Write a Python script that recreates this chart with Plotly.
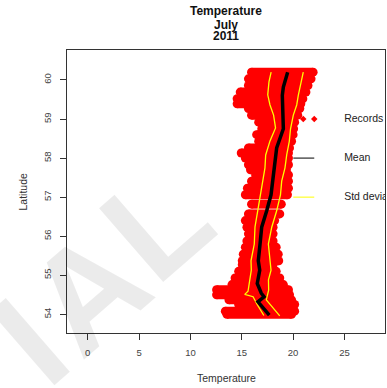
import plotly.graph_objects as go

# Temperature records per latitude band: coldest and warmest reading
rec_lat = [60.20, 60.03, 59.86, 59.69, 59.52, 59.39, 59.27, 59.10, 58.92, 58.75,
           58.60, 58.43, 58.26, 58.13, 58.00, 57.83, 57.70, 57.57, 57.41, 57.23,
           57.06, 56.82, 56.57, 56.40, 56.23, 56.06, 55.88, 55.72, 55.54, 55.37,
           55.27, 55.10, 54.93, 54.76, 54.63, 54.50, 54.37, 54.25, 54.08, 54.00]
rec_min = [15.95, 15.65, 15.65, 14.85, 14.55, 14.55, 15.65, 15.95, 16.65, 16.95,
           16.45, 16.65, 15.65, 14.95, 15.35, 15.65, 15.85, 16.35, 15.95, 15.55,
           15.35, 15.95, 15.65, 15.35, 15.50, 15.65, 15.50, 15.35, 15.15, 15.05,
           15.05, 14.70, 14.35, 14.05, 12.55, 12.55, 13.75, 14.70, 13.40, 13.55]
rec_max = [21.95, 21.75, 21.45, 21.25, 20.95, 20.75, 20.65, 20.45, 20.15, 20.05,
           20.00, 19.85, 19.65, 19.55, 19.55, 19.55, 19.35, 19.55, 19.55, 19.55,
           19.45, 18.85, 18.70, 18.20, 18.05, 18.05, 18.05, 18.35, 18.55, 18.60,
           18.05, 18.35, 18.70, 19.05, 19.55, 19.65, 19.85, 20.15, 20.15, 19.85]

# Mean temperature by latitude
mean_lat = [60.20, 59.82, 59.61, 59.18, 58.75, 58.26, 57.92, 57.49, 57.06, 56.65,
            56.23, 55.80, 55.37, 55.13, 54.79, 54.54, 54.45, 54.32, 54.11, 53.98]
mean_t = [19.47, 19.05, 18.95, 18.99, 19.05, 18.40, 18.24, 17.97, 17.85, 17.43,
          16.94, 16.78, 16.61, 16.75, 16.51, 16.90, 17.17, 16.58, 17.23, 17.68]

# Mean minus one standard deviation
lower_lat = [60.20, 59.95, 59.62, 59.36, 59.10, 58.77, 58.44, 58.08, 57.75, 57.41,
             57.06, 56.65, 56.24, 55.80, 55.37, 55.13, 54.88, 54.59, 54.51, 54.45,
             54.25, 53.97]
lower_t = [17.86, 17.65, 17.53, 17.75, 18.10, 18.29, 17.75, 17.33, 17.26, 17.04,
           16.87, 16.61, 16.29, 16.22, 15.90, 15.93, 15.77, 15.61, 15.29, 16.10,
           16.50, 17.15]

# Mean plus one standard deviation
upper_lat = [60.20, 59.95, 59.61, 59.36, 59.10, 58.75, 58.43, 58.09, 57.75, 57.41,
             57.06, 56.65, 56.23, 55.80, 55.37, 55.13, 54.88, 54.62, 54.37, 54.11,
             53.96]
upper_t = [20.99, 20.77, 20.51, 20.35, 20.02, 19.75, 19.63, 19.38, 19.21, 18.89,
           18.77, 18.40, 17.92, 17.59, 17.75, 17.85, 17.60, 17.62, 17.39, 18.21,
           18.70]

# Legend keys (placed in data units, as in the original plot)
legend_labels = ["Records", "Mean", "Std deviation"]
legend_lat = [59.0, 58.0, 57.0]
legend_key_t = [20.02, 22.06]
legend_dot_t = [20.99, 22.06]
legend_text_t = 24.97

x_ticks = [0, 5, 10, 15, 20, 25]
y_ticks = [54, 55, 56, 57, 58, 59, 60]

FONT = "Liberation Sans, Arial, sans-serif"
RED = "#ff0000"

fig = go.Figure()

# Record spread: one thick horizontal bar per latitude band, rounded ends
seg_x, seg_y = [], []
for lat, lo, hi in zip(rec_lat, rec_min, rec_max):
    seg_x += [lo, hi, None]
    seg_y += [lat, lat, None]
fig.add_trace(go.Scatter(
    x=seg_x, y=seg_y, mode="lines+markers",
    line=dict(color=RED, width=9),
    marker=dict(color=RED, size=9),
    hoverinfo="skip", showlegend=False))

fig.add_trace(go.Scatter(x=lower_t, y=lower_lat, mode="lines",
                         line=dict(color="#ffff00", width=1.3), showlegend=False))
fig.add_trace(go.Scatter(x=upper_t, y=upper_lat, mode="lines",
                         line=dict(color="#ffff00", width=1.3), showlegend=False))
fig.add_trace(go.Scatter(x=mean_t, y=mean_lat, mode="lines",
                         line=dict(color="black", width=3.5), showlegend=False))

# Legend drawn inside the plot area
fig.add_trace(go.Scatter(x=legend_dot_t, y=[legend_lat[0]] * 2, mode="markers",
                         marker=dict(color=RED, size=5, symbol="diamond"),
                         showlegend=False))
fig.add_trace(go.Scatter(x=legend_key_t, y=[legend_lat[1]] * 2, mode="lines",
                         line=dict(color="black", width=1), showlegend=False))
fig.add_trace(go.Scatter(x=legend_key_t, y=[legend_lat[2]] * 2, mode="lines",
                         line=dict(color="#ffff00", width=1), showlegend=False))
fig.add_trace(go.Scatter(x=[legend_text_t] * 3, y=legend_lat, mode="text",
                         text=legend_labels, textposition="middle right",
                         textfont=dict(family=FONT, size=10.5, color="#222"),
                         cliponaxis=True, showlegend=False))

axis_common = dict(
    showgrid=False, zeroline=False, showline=True, mirror=True,
    linecolor="#333", linewidth=1, ticks="outside", ticklen=6,
    tickcolor="#333", tickwidth=1,
    tickfont=dict(family=FONT, size=9.5, color="#444"),
    ticklabelstandoff=5,
)

annotations = []
# Faint watermark letters
for letter, px, py in [("I", -0.119, -0.03), ("A", 0.066, 0.15), ("L", 0.28, 0.39)]:
    annotations.append(dict(
        text=letter, xref="paper", yref="paper", x=px, y=py,
        xanchor="center", yanchor="middle", showarrow=False, textangle=-41,
        font=dict(family=FONT, size=142, color="rgba(0,0,0,0.08)", weight="bold")))

# Three-line bold title
for txt, py in [("Temperature", 1.138), ("July", 1.090), ("2011", 1.049)]:
    annotations.append(dict(
        text=f"<b>{txt}</b>", xref="paper", yref="paper", x=0.5, y=py,
        xanchor="center", yanchor="middle", showarrow=False,
        font=dict(family=FONT, size=12, color="#111")))

annotations.append(dict(text="Temperature", xref="paper", yref="paper",
                        x=0.5, y=-0.159, xanchor="center", yanchor="middle",
                        showarrow=False, font=dict(family=FONT, size=10.5, color="#333")))
annotations.append(dict(text="Latitude", xref="paper", yref="paper",
                        x=-0.1415, y=0.5, xanchor="center", yanchor="middle",
                        textangle=-90, showarrow=False,
                        font=dict(family=FONT, size=10.5, color="#333")))

fig.update_layout(
    width=387, height=388,
    margin=dict(l=67, r=2, t=50, b=55),
    paper_bgcolor="white", plot_bgcolor="white",
    xaxis=dict(range=[-2.02, 28.95], tickvals=x_ticks, **axis_common),
    yaxis=dict(range=[53.521, 60.768], tickvals=y_ticks, tickangle=-90, **axis_common),
    annotations=annotations,
    showlegend=False,
)

fig.write_html("out.html", config={"displayModeBar": False})
